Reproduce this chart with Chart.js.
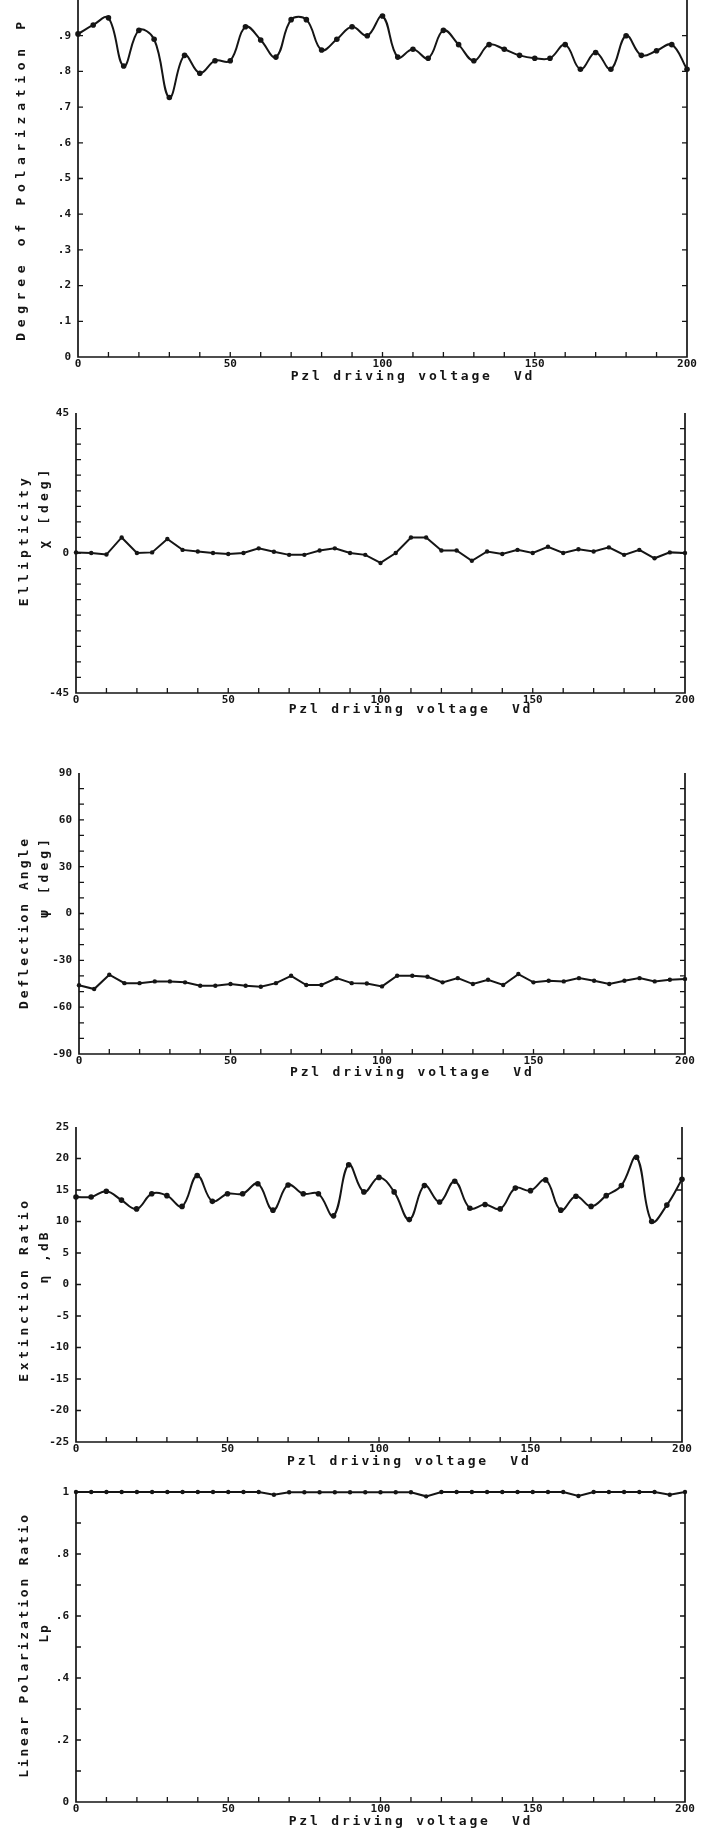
<!DOCTYPE html>
<html>
<head>
<meta charset="utf-8">
<script src="https://cdn.jsdelivr.net/npm/chart.js@4.4.1/dist/chart.umd.min.js"></script>
<style>
  body { margin: 0; background: #fff; }
  #page { position: relative; width: 704px; height: 1832px; overflow: hidden; background: #fff; }
  #page canvas { position: absolute; left: 0; }
</style>
</head>
<body>
<div id="page">
  <canvas id="polChart"></canvas>
  <canvas id="ellChart"></canvas>
  <canvas id="defChart"></canvas>
  <canvas id="extChart"></canvas>
  <canvas id="lprChart"></canvas>
</div>
<script>
// PZT driving voltage, one reading every 5 V
const voltage = [0, 5, 10, 15, 20, 25, 30, 35, 40, 45, 50, 55, 60, 65, 70, 75, 80, 85, 90, 95,
  100, 105, 110, 115, 120, 125, 130, 135, 140, 145, 150, 155, 160, 165, 170, 175, 180, 185, 190, 195, 200];

const degreeOfPolarization = [0.905, 0.93, 0.95, 0.815, 0.915, 0.89, 0.727, 0.845, 0.795, 0.83,
  0.83, 0.925, 0.888, 0.84, 0.945, 0.945, 0.86, 0.89, 0.925, 0.9,
  0.955, 0.84, 0.862, 0.837, 0.915, 0.875, 0.83, 0.875, 0.862, 0.845,
  0.837, 0.837, 0.875, 0.806, 0.853, 0.806, 0.9, 0.845, 0.858, 0.875,
  0.806];

const ellipticity = [0.2, 0, -0.5, 5, 0, 0.2, 4.5, 1, 0.5, 0,
  -0.3, 0, 1.5, 0.4, -0.6, -0.6, 0.8, 1.5, 0, -0.6,
  -3.2, 0, 5, 5, 0.8, 0.8, -2.5, 0.5, -0.3, 1,
  0, 2, 0, 1.2, 0.5, 1.8, -0.6, 1, -1.7, 0.2,
  0];

const deflectionAngle = [-46, -48.4, -39.2, -44.6, -44.6, -43.5, -43.5, -44.1, -46.3, -46.3,
  -45.2, -46.3, -46.9, -44.6, -39.9, -45.8, -45.8, -41.4, -44.6, -44.8,
  -46.7, -39.9, -39.9, -40.5, -44.1, -41.4, -45.2, -42.4, -45.8, -38.8,
  -44.1, -43.1, -43.5, -41.4, -43.1, -45.2, -43.1, -41.4, -43.5, -42.4,
  -42];

const extinctionRatio = [13.9, 13.9, 14.8, 13.4, 12.0, 14.4, 14.1, 12.4, 17.3, 13.2,
  14.4, 14.4, 16.0, 11.8, 15.8, 14.4, 14.4, 10.9, 19.0, 14.7,
  17.0, 14.7, 10.3, 15.7, 13.1, 16.4, 12.1, 12.7, 12.0, 15.3,
  14.9, 16.6, 11.8, 14.0, 12.4, 14.1, 15.7, 20.2, 10.0, 12.6,
  16.7];

const linearPolRatio = [1, 1, 1, 1, 1, 1, 1, 1, 1, 1,
  1, 1, 1, 0.991, 0.999, 0.999, 0.999, 0.999, 0.999, 0.999,
  0.999, 0.999, 0.999, 0.986, 1, 1, 1, 1, 1, 1,
  1, 1, 1, 0.987, 1, 1, 1, 1, 1, 0.991,
  1];

// tick values and their printed labels
const xTickValues = [0, 50, 100, 150, 200];
const polTickValues = [0, 0.1, 0.2, 0.3, 0.4, 0.5, 0.6, 0.7, 0.8, 0.9];
const polTickLabels = ['0', '.1', '.2', '.3', '.4', '.5', '.6', '.7', '.8', '.9'];
const ellTickValues = [-45, 0, 45];
const ellTickLabels = ['-45', '0', '45'];
const defTickValues = [-90, -60, -30, 0, 30, 60, 90];
const defTickLabels = ['-90', '-60', '-30', '0', '30', '60', '90'];
const extTickValues = [-25, -20, -15, -10, -5, 0, 5, 10, 15, 20, 25];
const extTickLabels = ['-25', '-20', '-15', '-10', '-5', '0', '5', '10', '15', '20', '25'];
const lprTickValues = [0, 0.2, 0.4, 0.6, 0.8, 1];
const lprTickLabels = ['0', '.2', '.4', '.6', '.8', '1'];

const xTitle = 'Pzl driving voltage  Vd';

const INK = '#151515';
const TICK_FONT = { family: "'DejaVu Sans Mono', monospace", size: 11, weight: 'bold' };
const TITLE_FONT = "bold 13px 'DejaVu Sans Mono', monospace";

// draws the open frame (left, bottom, right), inward tick marks and the spaced titles
function makeFrame(p) {
  return {
    id: 'plotFrame',
    afterDraw(chart) {
      const { ctx, chartArea: a, scales: { x, y } } = chart;
      ctx.save();
      ctx.strokeStyle = INK;
      ctx.lineWidth = 1.7;
      ctx.beginPath();
      ctx.moveTo(a.left, a.top);
      ctx.lineTo(a.left, a.bottom);
      ctx.lineTo(a.right, a.bottom);
      ctx.lineTo(a.right, a.top);
      ctx.stroke();

      ctx.lineWidth = 1.3;
      ctx.beginPath();
      const nx = Math.round((x.max - x.min) / p.xStep);
      for (let i = 1; i < nx; i++) {
        const px = x.getPixelForValue(x.min + i * p.xStep);
        ctx.moveTo(px, a.bottom);
        ctx.lineTo(px, a.bottom - 5);
      }
      const ny = Math.round((y.max - y.min) / p.yStep);
      for (let i = 1; i < ny; i++) {
        const py = y.getPixelForValue(y.min + i * p.yStep);
        ctx.moveTo(a.left, py);
        ctx.lineTo(a.left + 5, py);
        ctx.moveTo(a.right, py);
        ctx.lineTo(a.right - 5, py);
      }
      ctx.stroke();

      ctx.fillStyle = INK;
      ctx.font = TITLE_FONT;
      ctx.textAlign = 'center';
      ctx.textBaseline = 'middle';
      ctx.letterSpacing = '2.8px';
      ctx.fillText(xTitle, x.getPixelForValue(110), a.bottom + p.xTitleDy);

      const midY = (a.top + a.bottom) / 2;
      p.yTitles.forEach(t => {
        ctx.save();
        ctx.translate(t.x, midY + t.dy);
        ctx.rotate(-Math.PI / 2);
        ctx.letterSpacing = t.spacing + 'px';
        ctx.fillText(t.text, 0, 0);
        ctx.restore();
      });
      ctx.restore();
    }
  };
}

function makePanel(p) {
  const canvas = document.getElementById(p.id);
  canvas.width = 704;
  canvas.height = p.canvasH;
  canvas.style.top = p.canvasTop + 'px';

  return new Chart(canvas, {
    type: 'line',
    data: {
      datasets: [{
        data: voltage.map((v, i) => ({ x: v, y: p.values[i] })),
        borderColor: INK,
        borderWidth: 2,
        tension: p.tension,
        pointRadius: p.pointRadius,
        pointBackgroundColor: INK,
        pointBorderWidth: 0,
        clip: false
      }]
    },
    options: {
      responsive: false,
      animation: false,
      events: [],
      layout: {
        padding: { top: p.area.top - p.canvasTop, right: 704 - p.area.right, left: 0, bottom: 0 }
      },
      plugins: { legend: { display: false }, tooltip: { enabled: false } },
      scales: {
        x: {
          type: 'linear',
          min: 0,
          max: 200,
          grid: { display: false, drawTicks: false },
          border: { display: false },
          afterBuildTicks: s => { s.ticks = xTickValues.map(v => ({ value: v })); },
          ticks: { padding: 1, maxRotation: 0, autoSkip: false, font: TICK_FONT, color: INK },
          afterFit: s => { s.height = p.canvasTop + p.canvasH - p.area.bottom; }
        },
        y: {
          min: p.yMin,
          max: p.yMax,
          grid: { display: false, drawTicks: false },
          border: { display: false },
          afterBuildTicks: s => { s.ticks = p.tickValues.map(v => ({ value: v })); },
          ticks: {
            padding: 7,
            autoSkip: false,
            font: TICK_FONT,
            color: INK,
            callback: (v, i) => p.tickLabels[i]
          },
          afterFit: s => { s.width = p.area.left; }
        }
      }
    },
    plugins: [makeFrame(p)]
  });
}

makePanel({
  id: 'polChart', canvasTop: -14, canvasH: 404,
  area: { left: 78, right: 687, top: 0, bottom: 357 },
  values: degreeOfPolarization, yMin: 0, yMax: 1, yStep: 0.1, xStep: 10,
  tickValues: polTickValues, tickLabels: polTickLabels,
  tension: 0.4, pointRadius: 2.8, xTitleDy: 20,
  yTitles: [{ text: 'Degree of Polarization P', x: 22, dy: 0, spacing: 5.7 }]
});

makePanel({
  id: 'ellChart', canvasTop: 395, canvasH: 330,
  area: { left: 76, right: 685, top: 413, bottom: 693 },
  values: ellipticity, yMin: -45, yMax: 45, yStep: 5, xStep: 10,
  tickValues: ellTickValues, tickLabels: ellTickLabels,
  tension: 0, pointRadius: 2.2, xTitleDy: 17,
  yTitles: [
    { text: 'Ellipticity', x: 25, dy: -13, spacing: 4.2 },
    { text: 'χ [deg]', x: 45, dy: -46, spacing: 4 }
  ]
});

makePanel({
  id: 'defChart', canvasTop: 728, canvasH: 362,
  area: { left: 79, right: 685, top: 773, bottom: 1054 },
  values: deflectionAngle, yMin: -90, yMax: 90, yStep: 10, xStep: 10,
  tickValues: defTickValues, tickLabels: defTickLabels,
  tension: 0, pointRadius: 2.2, xTitleDy: 19,
  yTitles: [
    { text: 'Deflection Angle', x: 25, dy: 9, spacing: 3 },
    { text: 'ψ [deg]', x: 45, dy: -37, spacing: 4 }
  ]
});

makePanel({
  id: 'extChart', canvasTop: 1092, canvasH: 380,
  area: { left: 76, right: 682, top: 1127, bottom: 1442 },
  values: extinctionRatio, yMin: -25, yMax: 25, yStep: 5, xStep: 10,
  tickValues: extTickValues, tickLabels: extTickLabels,
  tension: 0.4, pointRadius: 2.8, xTitleDy: 20,
  yTitles: [
    { text: 'Extinction Ratio', x: 25, dy: 5, spacing: 3.7 },
    { text: 'η ,dB', x: 45, dy: -28, spacing: 3 }
  ]
});

makePanel({
  id: 'lprChart', canvasTop: 1474, canvasH: 358,
  area: { left: 76, right: 685, top: 1492, bottom: 1802 },
  values: linearPolRatio, yMin: 0, yMax: 1, yStep: 0.1, xStep: 10,
  tickValues: lprTickValues, tickLabels: lprTickLabels,
  tension: 0, pointRadius: 2.2, xTitleDy: 20,
  yTitles: [
    { text: 'Linear Polarization Ratio', x: 25, dy: -2, spacing: 2.8 },
    { text: 'Lp', x: 45, dy: -14, spacing: 2 }
  ]
});
</script>
</body>
</html>
